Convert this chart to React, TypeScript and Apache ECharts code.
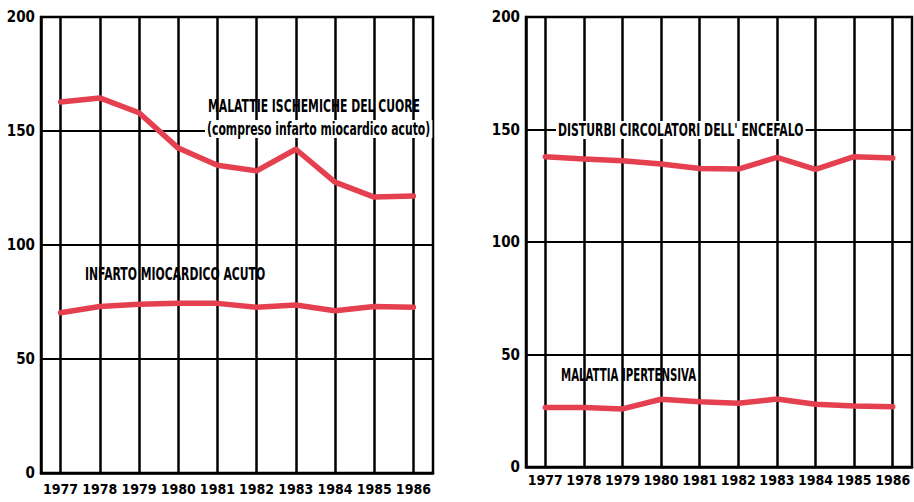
import React, { useEffect, useRef } from "react";
import * as echarts from "echarts";

const years = ["1977", "1978", "1979", "1980", "1981", "1982", "1983", "1984", "1985", "1986"];
const ischemiche = [162.7, 164.5, 158, 142.5, 135, 132.5, 142, 127.6, 121, 121.5];
const infarto = [70.3, 73, 74, 74.4, 74.4, 72.7, 73.7, 71.2, 73, 72.7];
const disturbi = [137.9, 136.9, 136.1, 134.7, 132.7, 132.4, 137.6, 132.3, 137.9, 137.3];
const ipertensiva = [26.4, 26.4, 25.8, 30.1, 29.0, 28.3, 30.2, 27.9, 27.1, 26.8];

const labelIschemiche1 = "MALATTIE ISCHEMICHE DEL CUORE";
const labelIschemiche2 = "(compreso infarto miocardico acuto)";
const labelInfarto = "INFARTO MIOCARDICO ACUTO";
const labelDisturbi = "DISTURBI CIRCOLATORI DELL' ENCEFALO";
const labelIpertensiva = "MALATTIA IPERTENSIVA";

const FONT = "'Liberation Sans Narrow', 'DejaVu Sans Condensed', 'Roboto Condensed', sans-serif";
const RED = "#e5404f";

export default function App() {
  const ref = useRef<HTMLDivElement>(null);
  useEffect(() => {
    if (!ref.current) return;
    const chart = echarts.init(ref.current, undefined, { renderer: "svg" });
    const grids = [
      { left: 41, top: 17, width: 392, height: 456 },
      { left: 526, top: 17, width: 386, height: 450 },
    ];
    const xAxis = grids.map((g, i) => ({
      type: "category",
      gridIndex: i,
      data: years,
      boundaryGap: true,
      axisLine: { show: true, lineStyle: { color: "#000", width: 2.5 } },
      axisTick: {
        show: true,
        alignWithLabel: true,
        inside: true,
        length: g.height,
        lineStyle: { color: "#000", width: 2.5 },
      },
      splitLine: { show: false },
      axisLabel: {
        color: "#000",
        fontFamily: FONT,
        fontWeight: "bold",
        fontSize: 14,
        margin: i === 0 ? 9 : 6,
        interval: 0,
      },
    }));
    const yAxis = grids.map((g, i) => ({
      type: "value",
      gridIndex: i,
      min: 0,
      max: 200,
      interval: 50,
      axisLine: { show: true, lineStyle: { color: "#000", width: 2.5 } },
      axisTick: { show: false },
      splitLine: { show: true, lineStyle: { color: "#000", width: 2 } },
      axisLabel: {
        color: "#000",
        fontFamily: FONT,
        fontWeight: "bold",
        fontSize: 15,
        margin: 6,
      },
    }));
    const mkSeries = (data: number[], idx: number) => ({
      type: "line",
      xAxisIndex: idx,
      yAxisIndex: idx,
      data,
      symbol: "none",
      z: 10,
      lineStyle: { color: RED, width: 5.5, join: "round", cap: "round" },
      silent: true,
    });
    const txt = (text: string, x: number, y: number, bg: boolean, sx = 0.67) => ({
      type: "text",
      x,
      y,
      scaleX: sx,
      z: 20,
      style: {
        text,
        fill: "#000",
        font: `bold 18px ${FONT}`,
        textAlign: "left",
        textVerticalAlign: "middle",
        backgroundColor: bg ? "#fff" : "transparent",
        padding: bg ? [0, 3] : 0,
      },
    });
    chart.setOption({
      animation: false,
      backgroundColor: "#fff",
      grid: grids.map((g) => ({ ...g, show: true, borderColor: "#000", borderWidth: 2.5, backgroundColor: "transparent" })),
      xAxis,
      yAxis,
      series: [
        mkSeries(ischemiche, 0),
        mkSeries(infarto, 0),
        mkSeries(disturbi, 1),
        mkSeries(ipertensiva, 1),
      ],
      graphic: [
        txt(labelIschemiche1, 208, 106, false),
        txt(labelIschemiche2, 205, 129, true),
        txt(labelInfarto, 85, 274, false),
        txt(labelDisturbi, 556, 130, true),
        txt(labelIpertensiva, 561, 375, false, 0.63),
      ],
    });
    return () => chart.dispose();
  }, []);
  return (
    <div
      ref={ref}
      style={{ position: "absolute", left: 0, top: 0, width: 914, height: 502 }}
    />
  );
}
